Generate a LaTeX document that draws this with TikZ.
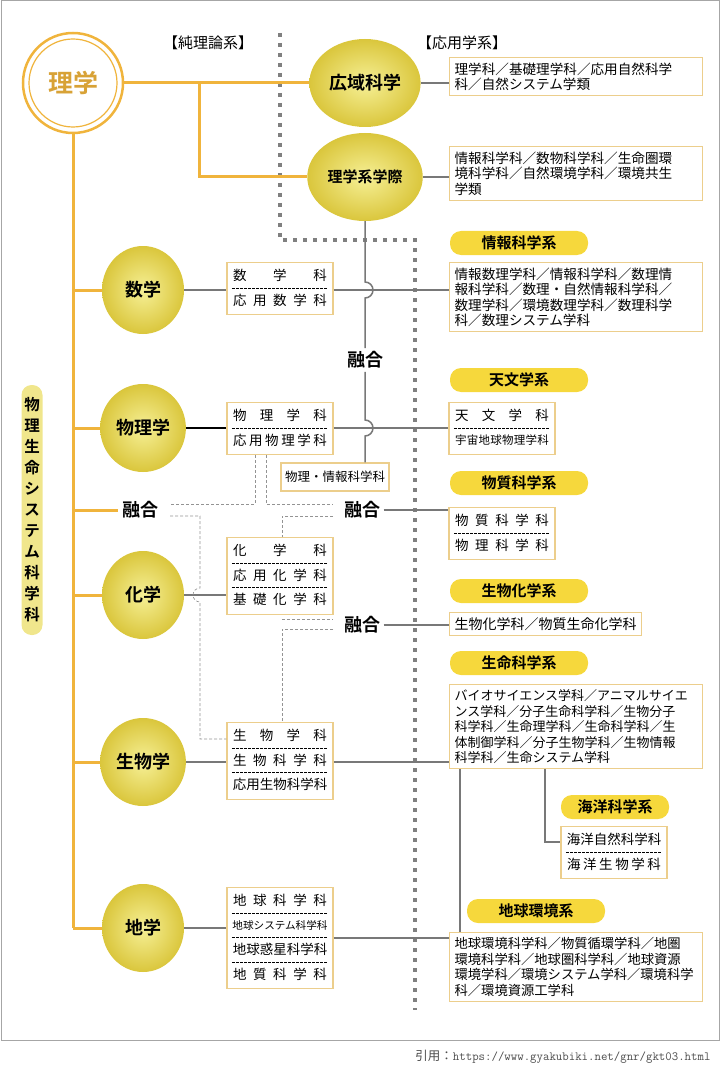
\documentclass[tikz,border=0pt]{standalone}
\usepackage{fontspec}
\setmainfont{Noto Sans CJK JP}[BoldFont={Noto Sans CJK JP Bold}]
\usetikzlibrary{shapes.geometric,positioning}
\definecolor{orng}{RGB}{240,180,60}
\definecolor{pillyl}{RGB}{246,216,60}
\definecolor{boxln}{RGB}{236,206,140}
\definecolor{lnk}{RGB}{120,120,120}
\definecolor{vpill}{RGB}{240,230,140}

\newcommand{\rowtext}[1]{\makebox[94pt]{#1}}
% name, centre x, top y, number of rows, rows
\newcommand{\deptbox}[5]{%
  \node[box, minimum width=106, minimum height=24.5*#4+3, anchor=north] (#1) at (#2,#3) {};
  \foreach \t [count=\i] in {#5} {
    \node[row] (#1-\i) at (#2,#3+24.5*\i-10.75) {\rowtext{\t}};
    \ifnum\i>1 \draw[sep] (#2-48,#3+24.5*\i-23) -- (#2+48,#3+24.5*\i-23);\fi
  }
}

\begin{document}
\begin{tikzpicture}[x=1pt,y=-1pt,
  ball/.style={ellipse, minimum width=82, minimum height=88, inner color={rgb,255:red,246;green,240;blue,150},
    outer color={rgb,255:red,218;green,198;blue,60}, font=\bfseries\fontsize{18}{18}\selectfont},
  pill/.style={rounded corners=11, fill=pillyl, minimum width=138, minimum height=24, font=\bfseries\fontsize{15}{15}\selectfont},
  box/.style={draw=boxln, line width=1.2pt, fill=white},
  rbox/.style={box, anchor=north west, text width=243, inner sep=5, align=left, font=\fontsize{13.6}{15.5}\selectfont},
  row/.style={inner sep=0, font=\fontsize{13.5}{13.5}\selectfont},
  sep/.style={dashed, line width=0.6pt, dash pattern=on 2.5pt off 1.5pt},
  trunk/.style={orng, line width=3pt},
  link/.style={lnk, line width=1.5pt},
  thin/.style={lnk!80, line width=0.6pt, dash pattern=on 3pt off 2pt},
  divider/.style={gray, line width=3.5pt, dash pattern=on 4pt off 6pt},
  yugo/.style={font=\bfseries\fontsize{18}{18}\selectfont}]
\useasboundingbox (0,0) rectangle (720,1067);
\draw[gray!70, line width=1pt] (1,1) rectangle (719,1040);
\node[anchor=east, text=gray!60!black, font=\fontsize{12.5}{13}\selectfont] (src) at (714,1057) {引用：\texttt{https://www.gyakubiki.net/gnr/gkt03.html}};

% headings and divider
\node[font=\fontsize{15}{15}\selectfont] (pure) at (208,43) {【純理論系】};
\node[font=\fontsize{15}{15}\selectfont] (appl) at (462,43) {【応用学系】};
\draw[divider] (280,33) -- (280,240) -- (415,240) -- (415,1010);

% root
\node[circle, draw=orng, line width=2.5pt, fill=white, minimum size=100, text=orng!90!black,
  font=\bfseries\fontsize{25}{25}\selectfont] (rigaku) at (73,83) {理学};
\draw[orng, line width=1.2pt] (rigaku) circle (44);

% circles
\node[ball] (kouiki) at (365,83) {広域科学};
\node[ball, font=\bfseries\fontsize{15}{15}\selectfont] (gakusai) at (365,177) {理学系学際};
\node[ball] (suugaku) at (143,290) {数学};
\node[ball] (butsuri) at (143,428) {物理学};
\node[ball] (kagaku) at (143,595) {化学};
\node[ball] (seibutsu) at (143,762) {生物学};
\node[ball] (chigaku) at (143,928) {地学};

% trunk and branches
\draw[trunk] (rigaku.east) -- (kouiki.west);
\draw[trunk] (199,83) -- (199,177) -- (gakusai.west);
\draw[trunk] (rigaku.south) -- (73,928);
\foreach \n in {suugaku,butsuri,kagaku,seibutsu,chigaku}
  \draw[trunk] (73,0 |- \n) -- (\n.west);
\node[yugo] (yugoL) at (140,510) {融合};
\draw[trunk] (73,510) -- (yugoL.west);
\node[rounded corners=10, fill=vpill, minimum width=21, minimum height=250, inner sep=0, align=center,
  font=\bfseries\fontsize{15.5}{21}\selectfont] (vsys) at (32,510)
  {物\\理\\生\\命\\シ\\ス\\テ\\ム\\科\\学\\科};

% pure side boxes
\deptbox{sbox}{280}{262}{2}{{数\hfill 学\hfill 科},{応\hfill 用\hfill 数\hfill 学\hfill 科}}
\deptbox{pbox}{280}{402}{2}{{物\hfill 理\hfill 学\hfill 科},{応\hfill 用\hfill 物\hfill 理\hfill 学\hfill 科}}
\deptbox{cbox}{280}{537}{3}{{化\hfill 学\hfill 科},{応\hfill 用\hfill 化\hfill 学\hfill 科},{基\hfill 礎\hfill 化\hfill 学\hfill 科}}
\deptbox{bbox}{280}{722}{3}{{生\hfill 物\hfill 学\hfill 科},{生\hfill 物\hfill 科\hfill 学\hfill 科},{応\hfill 用\hfill 生\hfill 物\hfill 科\hfill 学\hfill 科}}
\deptbox{ebox}{280}{887}{4}{{地\hfill 球\hfill 科\hfill 学\hfill 科},{\fontsize{10.6}{12}\selectfont 地球システム科学科},{地\hfill 球\hfill 惑\hfill 星\hfill 科\hfill 学\hfill 科},{地\hfill 質\hfill 科\hfill 学\hfill 科}}
\node[box, font=\fontsize{12.5}{13}\selectfont, minimum height=28, inner sep=4] (pibox) at (335,477) {物理・情報科学科};

% applied side
\node[rbox] (kbox) at (449,57) {理学科／基礎理学科／応用自然科学\\科／自然システム学類};
\node[rbox] (gbox) at (449,146) {情報科学科／数物科学科／生命圏環\\境科学科／自然環境学科／環境共生\\学類};
\node[pill] (johokei) at (519,243) {情報科学系};
\node[rbox] (jbox) at (449,262) {情報数理学科／情報科学科／数理情\\報科学科／数理・自然情報科学科／\\数理学科／環境数理学科／数理科学\\科／数理システム学科};
\node[pill] (tenkei) at (519,380) {天文学系};
\deptbox{tbox}{502}{402}{2}{{天\hfill 文\hfill 学\hfill 科},{\fontsize{11.5}{12}\selectfont 宇\hfill 宙\hfill 地\hfill 球\hfill 物\hfill 理\hfill 学\hfill 科}}
\node[pill] (busskei) at (519,483) {物質科学系};
\deptbox{mbox}{502}{507}{2}{{物\hfill 質\hfill 科\hfill 学\hfill 科},{物\hfill 理\hfill 科\hfill 学\hfill 科}}
\node[pill] (seikakei) at (519,591) {生物化学系};
\node[box, anchor=north west, inner sep=5, font=\fontsize{14}{15}\selectfont] (bcbox) at (449,612) {生物化学科／物質生命化学科};
\node[pill] (seimeikei) at (519,663) {生命科学系};
\node[rbox, font=\fontsize{13}{15.5}\selectfont] (lbox) at (449,684) {バイオサイエンス学科／アニマルサイエ\\ンス学科／分子生命科学科／生物分子\\科学科／生命理学科／生命科学科／生\\体制御学科／分子生物学科／生物情報\\科学科／生命システム学科};
\node[pill, minimum width=108] (kaiyokei) at (615,807) {海洋科学系};
\deptbox{obox}{614}{826}{2}{{海\hfill 洋\hfill 自\hfill 然\hfill 科\hfill 学\hfill 科},{海\hfill 洋\hfill 生\hfill 物\hfill 学\hfill 科}}
\node[pill] (chikei) at (536,911) {地球環境系};
\node[rbox, font=\fontsize{13.3}{15.5}\selectfont] (cqbox) at (449,932) {地球環境科学科／物質循環学科／地圏\\環境科学科／地球圏科学科／地球資源\\環境学科／環境システム学科／環境科学\\科／環境資源工学科};

% connectors
\draw[link] (kouiki.east) -- (kbox.west |- kouiki);
\draw[link] (gakusai.east) -- (gbox.west |- gakusai);
\draw[link] (suugaku.east) -- (sbox.west |- suugaku);
\draw[link] (sbox.east |- suugaku) -- (jbox.west |- suugaku);
\draw[black, line width=1.8pt] (butsuri.east) -- (pbox.west |- butsuri);
\draw[link] (pbox.east |- butsuri) -- (tbox.west |- butsuri);
\draw[link] (kagaku.east) -- (cbox.west |- kagaku);
\draw[link] (seibutsu.east) -- (bbox.west |- seibutsu);
\draw[link] (bbox.east |- seibutsu) -- (lbox.west |- seibutsu);
\draw[link] (chigaku.east) -- (ebox.west |- chigaku);
\draw[link] (ebox.east |- 0,938) -- (cqbox.west |- 0,938);
\node[yugo] (yugoA) at (365,360) {融合};
\node[yugo] (yugoB) at (362,510) {融合};
\node[yugo] (yugoC) at (362,625) {融合};
\draw[link] (yugoB.east) -- (mbox.west |- yugoB);
\draw[link] (yugoC.east) -- (bcbox.west |- yugoC);
\draw[link] (gakusai.south) -- (365,282) arc[start angle=-90, end angle=90, radius=8] -- (yugoA.north);
\draw[link] (yugoA.south) -- (365,420) arc[start angle=-90, end angle=90, radius=8] -- (365,0 |- pibox.north);
\draw[link, line width=1.2pt] (460,0 |- lbox.south) -- (460,0 |- cqbox.north);
\draw[link, line width=1.2pt] (545,0 |- lbox.south) -- (545,842) -- (obox.west |- 0,842);

% dashed fusion links
\draw[thin] (255,0 |- pbox.south) -- (255,504) -- (170,504);
\draw[thin] (266,0 |- pbox.south) -- (266,504) -- (333,504);
\draw[thin] (170,516) -- (200,516) -- (200,588) arc[start angle=-90, end angle=-270, radius=7] -- (200,739) -- (bbox.west |- 0,739);
\draw[thin] (333,516) -- (282,516) -- (282,0 |- cbox.north);
\draw[thin] (282,619) -- (333,619);
\draw[thin] (333,629) -- (282,629) -- (282,0 |- bbox.north);
\end{tikzpicture}
\end{document}
